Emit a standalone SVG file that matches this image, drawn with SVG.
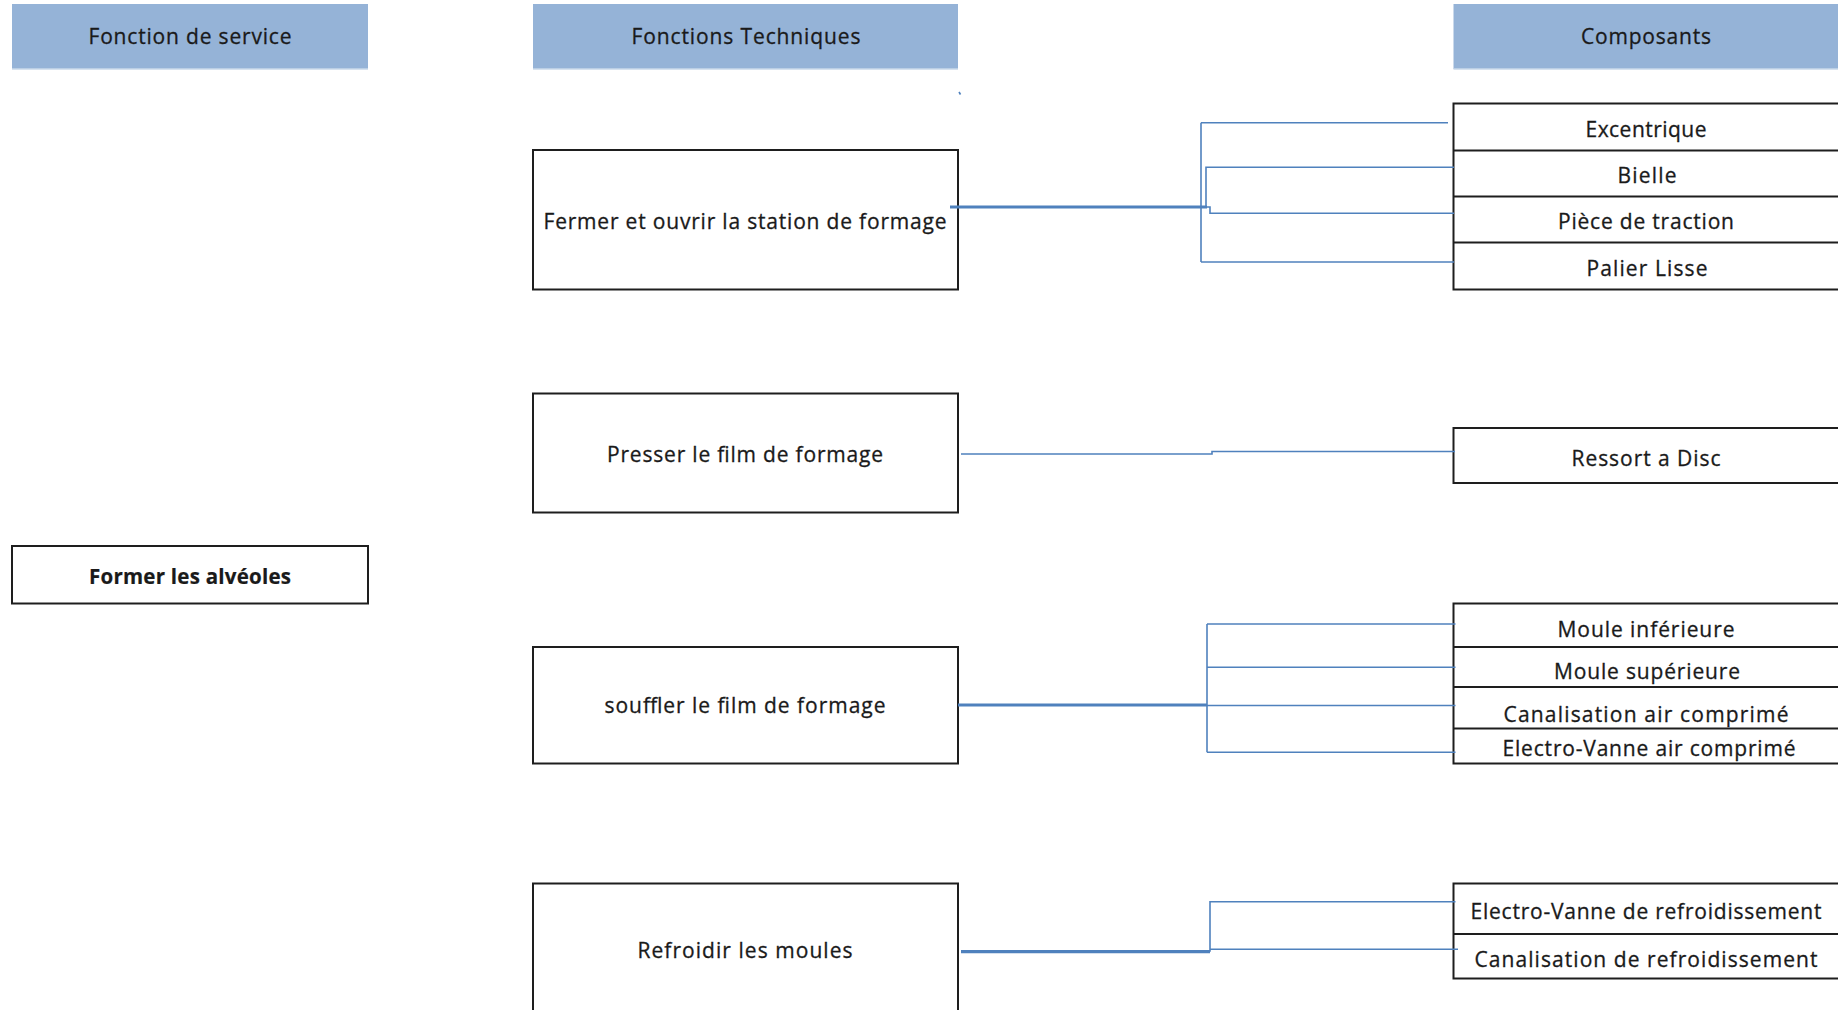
<svg xmlns="http://www.w3.org/2000/svg" width="1838" height="1010" viewBox="0 0 1838 1010">
  <style>
    .hdr { fill: #95b3d7; }
    .hdr-edge { stroke: #c9d8ea; stroke-width: 1.5; }
    .box { fill: #ffffff; stroke: #1e1e1e; stroke-width: 2; }
    .div { stroke: #1e1e1e; stroke-width: 2; }
    .t { font-family: "Open Sans", "Liberation Sans", sans-serif; font-size: 21px; fill: #1a1a1a; stroke: #1a1a1a; stroke-width: 0.3; text-anchor: middle; }
    .b { font-weight: bold; font-size: 20.5px; stroke-width: 0.2; }
    .link { fill: none; stroke: #4f81bd; stroke-width: 1.6; }
    .trunk { fill: none; stroke: #4f81bd; stroke-width: 3.2; }
  </style>

  <rect width="1838" height="1010" fill="#ffffff"/>

  <!-- column headers -->
  <g id="hdr-service">
    <rect class="hdr" x="12" y="4" width="356" height="65"/>
    <line class="hdr-edge" x1="12" y1="69" x2="368" y2="69"/>
    <text class="t" x="190" y="43.5" textLength="203" lengthAdjust="spacing">Fonction de service</text>
  </g>
  <g id="hdr-techniques">
    <rect class="hdr" x="533" y="4" width="425" height="65"/>
    <line class="hdr-edge" x1="533" y1="69" x2="958" y2="69"/>
    <text class="t" x="746" y="43.5" textLength="229" lengthAdjust="spacing">Fonctions Techniques</text>
  </g>
  <g id="hdr-composants">
    <rect class="hdr" x="1453.5" y="4" width="385" height="65"/>
    <line class="hdr-edge" x1="1453.5" y1="69" x2="1838" y2="69"/>
    <text class="t" x="1646" y="43.5" textLength="130" lengthAdjust="spacing">Composants</text>
  </g>

  <!-- service function -->
  <g id="fs-alveoles">
    <rect class="box" x="12" y="546" width="356" height="57.5"/>
    <text class="t b" x="190" y="583.5" textLength="202" lengthAdjust="spacing">Former les alvéoles</text>
  </g>

  <!-- technical functions -->
  <g id="ft-station">
    <rect class="box" x="533" y="150" width="425" height="139.5"/>
    <text class="t" x="745" y="229" textLength="403" lengthAdjust="spacing">Fermer et ouvrir la station de formage</text>
  </g>
  <g id="ft-presser">
    <rect class="box" x="533" y="393.5" width="425" height="119"/>
    <text class="t" x="745" y="461.5" textLength="276" lengthAdjust="spacing">Presser le film de formage</text>
  </g>
  <g id="ft-souffler">
    <rect class="box" x="533" y="647" width="425" height="116.5"/>
    <text class="t" x="745" y="713" textLength="281" lengthAdjust="spacing">souffler le film de formage</text>
  </g>
  <g id="ft-refroidir">
    <rect class="box" x="533" y="883.5" width="425" height="140"/>
    <text class="t" x="745" y="957.5" textLength="215" lengthAdjust="spacing">Refroidir les moules</text>
  </g>

  <!-- components: station -->
  <g id="comp-station">
    <rect class="box" x="1453.5" y="103.5" width="400" height="186"/>
    <line class="div" x1="1453.5" y1="150.5" x2="1838" y2="150.5"/>
    <line class="div" x1="1453.5" y1="196.5" x2="1838" y2="196.5"/>
    <line class="div" x1="1453.5" y1="242.5" x2="1838" y2="242.5"/>
    <text class="t" x="1646" y="136.5" textLength="121" lengthAdjust="spacing">Excentrique</text>
    <text class="t" x="1647" y="182.5" textLength="59" lengthAdjust="spacing">Bielle</text>
    <text class="t" x="1646" y="229" textLength="176" lengthAdjust="spacing">Pièce de traction</text>
    <text class="t" x="1647" y="276" textLength="121" lengthAdjust="spacing">Palier Lisse</text>
  </g>

  <!-- components: presser -->
  <g id="comp-presser">
    <rect class="box" x="1453.5" y="428" width="400" height="55"/>
    <text class="t" x="1646" y="465.5" textLength="149" lengthAdjust="spacing">Ressort a Disc</text>
  </g>

  <!-- components: souffler -->
  <g id="comp-souffler">
    <rect class="box" x="1453.5" y="603.5" width="400" height="160"/>
    <line class="div" x1="1453.5" y1="647" x2="1838" y2="647"/>
    <line class="div" x1="1453.5" y1="687" x2="1838" y2="687"/>
    <line class="div" x1="1453.5" y1="728.5" x2="1838" y2="728.5"/>
    <text class="t" x="1646" y="636.5" textLength="177" lengthAdjust="spacing">Moule inférieure</text>
    <text class="t" x="1647" y="678.5" textLength="186" lengthAdjust="spacing">Moule supérieure</text>
    <text class="t" x="1646" y="721.5" textLength="285" lengthAdjust="spacing">Canalisation air comprimé</text>
    <text class="t" x="1649" y="756" textLength="293" lengthAdjust="spacing">Electro-Vanne air comprimé</text>
  </g>

  <!-- components: refroidir -->
  <g id="comp-refroidir">
    <rect class="box" x="1453.5" y="883.5" width="400" height="95"/>
    <line class="div" x1="1453.5" y1="934" x2="1838" y2="934"/>
    <text class="t" x="1646" y="918.5" textLength="351" lengthAdjust="spacing">Electro-Vanne de refroidissement</text>
    <text class="t" x="1646" y="966.5" textLength="343" lengthAdjust="spacing">Canalisation de refroidissement</text>
  </g>

  <!-- connectors -->
  <g id="connectors">
    <!-- station -->
    <line class="link" x1="959" y1="92" x2="960.5" y2="94.5"/>
    <path class="trunk" d="M950 207 H1207"/>
    <path class="link" d="M1201 122.7 V262"/>
    <path class="link" d="M1201 122.7 H1448"/>
    <path class="link" d="M1206 207 V167.3 H1454"/>
    <path class="link" d="M1207 207 H1210 V213.3 H1454"/>
    <path class="link" d="M1201 262 H1454"/>
    <!-- presser -->
    <path class="link" d="M961 454 H1212 V451.5 H1455"/>
    <!-- souffler -->
    <path class="trunk" d="M958 705 H1207"/>
    <path class="link" d="M1207 624 V752.3"/>
    <path class="link" d="M1207 624 H1455.5"/>
    <path class="link" d="M1207 667.3 H1455.5"/>
    <path class="link" d="M1207 705.5 H1455.5"/>
    <path class="link" d="M1207 752.3 H1455.5"/>
    <!-- refroidir -->
    <path class="trunk" d="M961 951.7 H1210"/>
    <path class="link" d="M1210 951.7 V901.7 H1455.5"/>
    <path class="link" d="M1210 949.3 H1458"/>
  </g>
</svg>
